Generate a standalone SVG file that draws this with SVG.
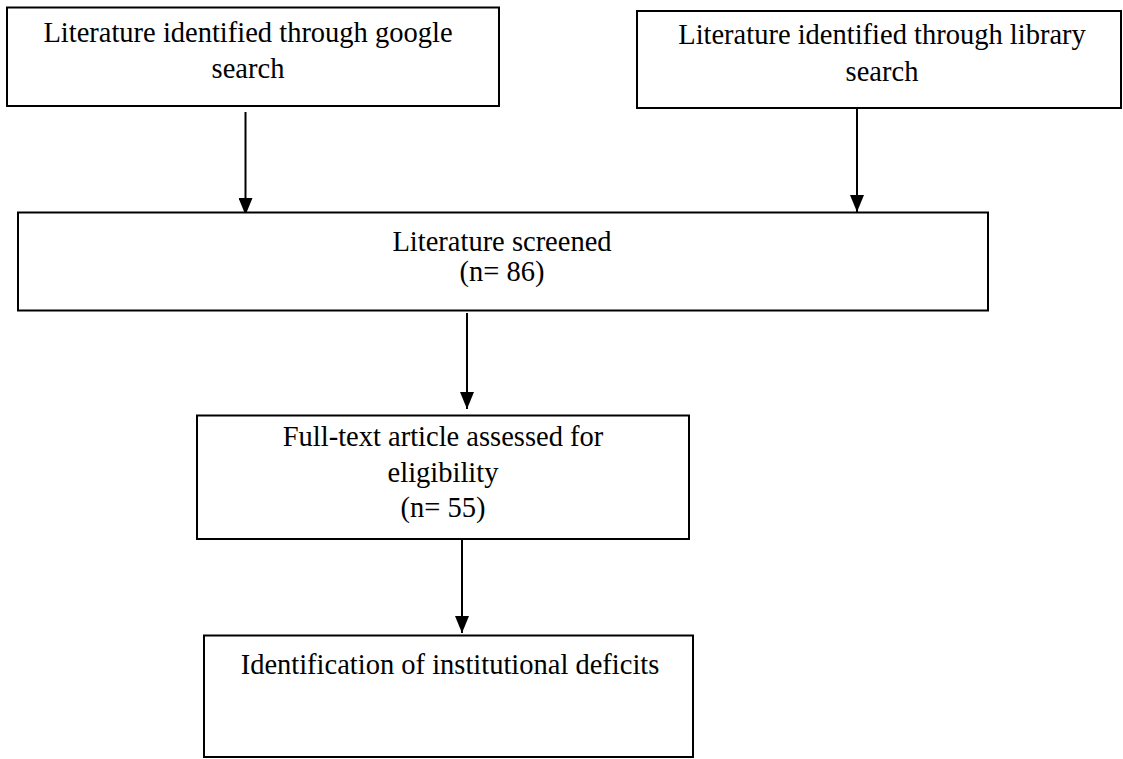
<svg xmlns="http://www.w3.org/2000/svg" width="1123" height="759" viewBox="0 0 1123 759">
<style>
.box{fill:#fff;stroke:#000;stroke-width:2}
.lbl{font-family:"Liberation Serif","Times New Roman",serif;font-size:28.5px;fill:#000;text-anchor:middle}
.arr{stroke:#000;stroke-width:2;fill:none;marker-end:url(#ah)}
</style>
<defs>
<marker id="ah" markerUnits="userSpaceOnUse" markerWidth="17" markerHeight="14" viewBox="0 0 17 14" refX="17" refY="7" orient="auto">
<path d="M0,0 L17,7 L0,14 z" fill="#000"/>
</marker>
</defs>
<rect width="1123" height="759" fill="#fff"/>
<g id="connectors">
<line class="arr" x1="245.5" y1="112" x2="245.5" y2="215"/>
<line class="arr" x1="857" y1="108" x2="857" y2="212"/>
<line class="arr" x1="467" y1="313" x2="467" y2="409"/>
<line class="arr" x1="462" y1="535" x2="462" y2="633"/>
</g>
<g id="google">
<rect class="box" x="7" y="7.5" width="492" height="98.5"/>
<text class="lbl" x="248" y="42">Literature identified through google</text>
<text class="lbl" x="248" y="78">search</text>
</g>
<g id="library">
<rect class="box" x="637" y="11" width="484" height="97"/>
<text class="lbl" x="882" y="44">Literature identified through library</text>
<text class="lbl" x="882" y="81">search</text>
</g>
<g id="screened">
<rect class="box" x="18" y="212.5" width="970" height="98"/>
<text class="lbl" x="502" y="251">Literature screened</text>
<text class="lbl" x="502" y="281">(n= 86)</text>
</g>
<g id="fulltext">
<rect class="box" x="197" y="415.5" width="492" height="123.5"/>
<text class="lbl" x="443" y="446">Full-text article assessed for</text>
<text class="lbl" x="443" y="482">eligibility</text>
<text class="lbl" x="443" y="517">(n= 55)</text>
</g>
<g id="deficits">
<rect class="box" x="204" y="635.5" width="489" height="121.5"/>
<text class="lbl" x="450" y="674">Identification of institutional deficits</text>
</g>
</svg>
